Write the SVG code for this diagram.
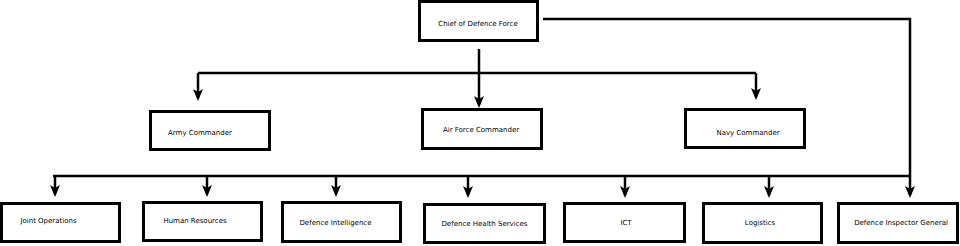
<svg xmlns="http://www.w3.org/2000/svg" width="960" height="246" viewBox="0 0 960 246">
<style>
  .box { fill: #ffffff; stroke: #000000; stroke-width: 3; }
  .lbl { font-family: "DejaVu Sans", Verdana, sans-serif; font-size: 7px; fill: #000000; text-anchor: middle; }
  .conn { fill: none; stroke: #000000; stroke-width: 2.5; }
</style>
<defs>
  <marker id="arr" markerUnits="userSpaceOnUse" markerWidth="12" markerHeight="12" viewBox="0 -6 12 12" refX="9" refY="0" orient="auto">
    <path d="M0,-5 L12,0 L0,5 L3,0 Z" fill="#000000"/>
  </marker>
</defs>
<rect width="960" height="246" fill="#ffffff"/>
<g id="connectors">
  <path class="conn" d="M543,19 H910 V195" marker-end="url(#arr)"/>
  <path class="conn" d="M479,49 V105" marker-end="url(#arr)"/>
  <path class="conn" d="M198,73 H756"/>
  <path class="conn" d="M198,73 V98" marker-end="url(#arr)"/>
  <path class="conn" d="M756,73 V97" marker-end="url(#arr)"/>
  <path class="conn" d="M53,176 H910"/>
  <path class="conn" d="M55,176 V194" marker-end="url(#arr)"/>
  <path class="conn" d="M207,176 V194" marker-end="url(#arr)"/>
  <path class="conn" d="M336,176 V194" marker-end="url(#arr)"/>
  <path class="conn" d="M468,176 V195" marker-end="url(#arr)"/>
  <path class="conn" d="M625,176 V195" marker-end="url(#arr)"/>
  <path class="conn" d="M769,176 V195" marker-end="url(#arr)"/>
</g>
<g id="cdf">
  <rect class="box" x="419.5" y="1.5" width="118" height="39"/>
  <text class="lbl" x="478" y="25.5">Chief of Defence Force</text>
</g>
<g id="army">
  <rect class="box" x="150.5" y="111.5" width="119" height="38"/>
  <text class="lbl" x="200" y="134.5">Army Commander</text>
</g>
<g id="airforce">
  <rect class="box" x="422.5" y="109.5" width="119" height="39"/>
  <text class="lbl" x="481" y="131.5">Air Force Commander</text>
</g>
<g id="navy">
  <rect class="box" x="685.5" y="109.5" width="119" height="38"/>
  <text class="lbl" x="748" y="134.5">Navy Commander</text>
</g>
<g id="jointops">
  <rect class="box" x="1.5" y="203.5" width="118" height="38"/>
  <text class="lbl" x="48.5" y="222.5">Joint Operations</text>
</g>
<g id="hr">
  <rect class="box" x="143.5" y="202.5" width="118" height="38"/>
  <text class="lbl" x="195" y="223">Human Resources</text>
</g>
<g id="intel">
  <rect class="box" x="282.5" y="202.5" width="118" height="39"/>
  <text class="lbl" x="335.5" y="225">Defence Intelligence</text>
</g>
<g id="health">
  <rect class="box" x="424.5" y="204.5" width="120" height="38"/>
  <text class="lbl" x="484.5" y="225.5">Defence Health Services</text>
</g>
<g id="ict">
  <rect class="box" x="564.5" y="203.5" width="120" height="38"/>
  <text class="lbl" x="626" y="225">ICT</text>
</g>
<g id="logistics">
  <rect class="box" x="703.5" y="203.5" width="118" height="39"/>
  <text class="lbl" x="760" y="225">Logistics</text>
</g>
<g id="inspector">
  <rect class="box" x="838.5" y="203.5" width="119" height="39"/>
  <text class="lbl" x="901" y="225">Defence Inspector General</text>
</g>
</svg>
